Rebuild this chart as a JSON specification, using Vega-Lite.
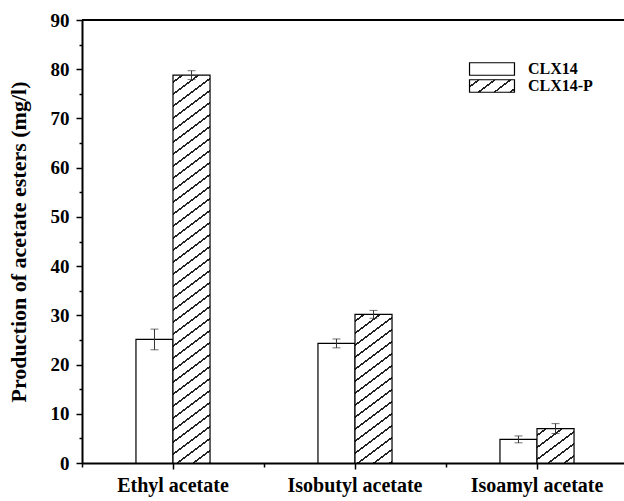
{
  "$schema": "https://vega.github.io/schema/vega-lite/v6.json",
  "width": 542,
  "height": 443,
  "autosize": {"type": "none"},
  "padding": {"left": 82, "top": 20, "right": 0, "bottom": 38},
  "background": "white",
  "params": [
    {"name": "stops", "value": [
      {"offset": 0, "color": "white"},
      {"offset": 0.012, "color": "white"}, {"offset": 0.012, "color": "#222"}, {"offset": 0.016, "color": "#222"}, {"offset": 0.016, "color": "white"},
      {"offset": 0.036, "color": "white"}, {"offset": 0.036, "color": "#222"}, {"offset": 0.040, "color": "#222"}, {"offset": 0.040, "color": "white"},
      {"offset": 0.060, "color": "white"}, {"offset": 0.060, "color": "#222"}, {"offset": 0.064, "color": "#222"}, {"offset": 0.064, "color": "white"},
      {"offset": 0.084, "color": "white"}, {"offset": 0.084, "color": "#222"}, {"offset": 0.088, "color": "#222"}, {"offset": 0.088, "color": "white"},
      {"offset": 0.108, "color": "white"}, {"offset": 0.108, "color": "#222"}, {"offset": 0.112, "color": "#222"}, {"offset": 0.112, "color": "white"},
      {"offset": 0.132, "color": "white"}, {"offset": 0.132, "color": "#222"}, {"offset": 0.136, "color": "#222"}, {"offset": 0.136, "color": "white"},
      {"offset": 0.156, "color": "white"}, {"offset": 0.156, "color": "#222"}, {"offset": 0.160, "color": "#222"}, {"offset": 0.160, "color": "white"},
      {"offset": 0.180, "color": "white"}, {"offset": 0.180, "color": "#222"}, {"offset": 0.184, "color": "#222"}, {"offset": 0.184, "color": "white"},
      {"offset": 0.204, "color": "white"}, {"offset": 0.204, "color": "#222"}, {"offset": 0.208, "color": "#222"}, {"offset": 0.208, "color": "white"},
      {"offset": 0.228, "color": "white"}, {"offset": 0.228, "color": "#222"}, {"offset": 0.232, "color": "#222"}, {"offset": 0.232, "color": "white"},
      {"offset": 0.252, "color": "white"}, {"offset": 0.252, "color": "#222"}, {"offset": 0.256, "color": "#222"}, {"offset": 0.256, "color": "white"},
      {"offset": 0.276, "color": "white"}, {"offset": 0.276, "color": "#222"}, {"offset": 0.280, "color": "#222"}, {"offset": 0.280, "color": "white"},
      {"offset": 0.300, "color": "white"}, {"offset": 0.300, "color": "#222"}, {"offset": 0.304, "color": "#222"}, {"offset": 0.304, "color": "white"},
      {"offset": 0.324, "color": "white"}, {"offset": 0.324, "color": "#222"}, {"offset": 0.328, "color": "#222"}, {"offset": 0.328, "color": "white"},
      {"offset": 0.348, "color": "white"}, {"offset": 0.348, "color": "#222"}, {"offset": 0.352, "color": "#222"}, {"offset": 0.352, "color": "white"},
      {"offset": 0.372, "color": "white"}, {"offset": 0.372, "color": "#222"}, {"offset": 0.376, "color": "#222"}, {"offset": 0.376, "color": "white"},
      {"offset": 0.396, "color": "white"}, {"offset": 0.396, "color": "#222"}, {"offset": 0.400, "color": "#222"}, {"offset": 0.400, "color": "white"},
      {"offset": 0.420, "color": "white"}, {"offset": 0.420, "color": "#222"}, {"offset": 0.424, "color": "#222"}, {"offset": 0.424, "color": "white"},
      {"offset": 0.444, "color": "white"}, {"offset": 0.444, "color": "#222"}, {"offset": 0.448, "color": "#222"}, {"offset": 0.448, "color": "white"},
      {"offset": 0.468, "color": "white"}, {"offset": 0.468, "color": "#222"}, {"offset": 0.472, "color": "#222"}, {"offset": 0.472, "color": "white"},
      {"offset": 0.492, "color": "white"}, {"offset": 0.492, "color": "#222"}, {"offset": 0.496, "color": "#222"}, {"offset": 0.496, "color": "white"},
      {"offset": 0.516, "color": "white"}, {"offset": 0.516, "color": "#222"}, {"offset": 0.520, "color": "#222"}, {"offset": 0.520, "color": "white"},
      {"offset": 0.540, "color": "white"}, {"offset": 0.540, "color": "#222"}, {"offset": 0.544, "color": "#222"}, {"offset": 0.544, "color": "white"},
      {"offset": 0.564, "color": "white"}, {"offset": 0.564, "color": "#222"}, {"offset": 0.568, "color": "#222"}, {"offset": 0.568, "color": "white"},
      {"offset": 0.588, "color": "white"}, {"offset": 0.588, "color": "#222"}, {"offset": 0.592, "color": "#222"}, {"offset": 0.592, "color": "white"},
      {"offset": 0.612, "color": "white"}, {"offset": 0.612, "color": "#222"}, {"offset": 0.616, "color": "#222"}, {"offset": 0.616, "color": "white"},
      {"offset": 0.636, "color": "white"}, {"offset": 0.636, "color": "#222"}, {"offset": 0.640, "color": "#222"}, {"offset": 0.640, "color": "white"},
      {"offset": 0.660, "color": "white"}, {"offset": 0.660, "color": "#222"}, {"offset": 0.664, "color": "#222"}, {"offset": 0.664, "color": "white"},
      {"offset": 0.684, "color": "white"}, {"offset": 0.684, "color": "#222"}, {"offset": 0.688, "color": "#222"}, {"offset": 0.688, "color": "white"},
      {"offset": 0.708, "color": "white"}, {"offset": 0.708, "color": "#222"}, {"offset": 0.712, "color": "#222"}, {"offset": 0.712, "color": "white"},
      {"offset": 0.732, "color": "white"}, {"offset": 0.732, "color": "#222"}, {"offset": 0.736, "color": "#222"}, {"offset": 0.736, "color": "white"},
      {"offset": 0.756, "color": "white"}, {"offset": 0.756, "color": "#222"}, {"offset": 0.760, "color": "#222"}, {"offset": 0.760, "color": "white"},
      {"offset": 0.780, "color": "white"}, {"offset": 0.780, "color": "#222"}, {"offset": 0.784, "color": "#222"}, {"offset": 0.784, "color": "white"},
      {"offset": 0.804, "color": "white"}, {"offset": 0.804, "color": "#222"}, {"offset": 0.808, "color": "#222"}, {"offset": 0.808, "color": "white"},
      {"offset": 0.828, "color": "white"}, {"offset": 0.828, "color": "#222"}, {"offset": 0.832, "color": "#222"}, {"offset": 0.832, "color": "white"},
      {"offset": 0.852, "color": "white"}, {"offset": 0.852, "color": "#222"}, {"offset": 0.856, "color": "#222"}, {"offset": 0.856, "color": "white"},
      {"offset": 0.876, "color": "white"}, {"offset": 0.876, "color": "#222"}, {"offset": 0.880, "color": "#222"}, {"offset": 0.880, "color": "white"},
      {"offset": 0.900, "color": "white"}, {"offset": 0.900, "color": "#222"}, {"offset": 0.904, "color": "#222"}, {"offset": 0.904, "color": "white"},
      {"offset": 1, "color": "white"}
    ]}
  ],
  "data": {
    "values": [
      {"ester": "Ethyl acetate", "strain": "CLX14", "value": 25.1, "err": 2.1},
      {"ester": "Ethyl acetate", "strain": "CLX14-P", "value": 78.8, "err": 0.9},
      {"ester": "Isobutyl acetate", "strain": "CLX14", "value": 24.3, "err": 0.9},
      {"ester": "Isobutyl acetate", "strain": "CLX14-P", "value": 30.2, "err": 0.8},
      {"ester": "Isoamyl acetate", "strain": "CLX14", "value": 4.8, "err": 0.7},
      {"ester": "Isoamyl acetate", "strain": "CLX14-P", "value": 7.0, "err": 1.0}
    ]
  },
  "layer": [
    {
      "mark": {
        "type": "bar",
        "stroke": "black",
        "strokeWidth": 1.2,
        "fill": {"expr": "datum.strain === 'CLX14' || datum.value === 'CLX14' ? 'white' : isString(datum.value) ? {gradient: 'linear', x1: 0, y1: 0, x2: 13.03, y2: 4.825, stops: stops} : {gradient: 'linear', x1: 0, y1: 0, x2: 0.75*bandwidth('xOffset')*500/(pow(0.75*bandwidth('xOffset'),2)+pow(scale('y',0)-scale('y',datum.value),2)), y2: (scale('y',0)-scale('y',datum.value))*500/(pow(0.75*bandwidth('xOffset'),2)+pow(scale('y',0)-scale('y',datum.value),2)), stops: stops}"}
      },
      "encoding": {
        "x": {
          "field": "ester", "type": "nominal", "sort": null,
          "scale": {"type": "band", "range": [0, 546], "paddingInner": 0.593, "paddingOuter": 0.2965},
          "axis": {
            "orient": "bottom",
            "title": null, "labelAngle": 0, "domainWidth": 2, "domainColor": "black",
            "tickSize": 6, "tickWidth": 1.5, "tickColor": "black",
            "labelFont": "Liberation Serif", "labelFontWeight": "bold", "labelFontSize": 20,
            "labelColor": "black", "labelPadding": 6
          }
        },
        "xOffset": {"field": "strain", "type": "nominal", "scale": {"domain": ["CLX14", "CLX14-P"], "paddingInner": 0, "paddingOuter": 0}},
        "y": {
          "field": "value", "type": "quantitative",
          "scale": {"domain": [0, 90], "nice": false, "zero": true},
          "axis": {
            "orient": "left",
            "title": "Production of acetate esters (mg/l)",
            "values": [0, 10, 20, 30, 40, 50, 60, 70, 80, 90],
            "tickSize": 6, "tickWidth": 1.5, "tickColor": "black",
            "domainWidth": 2, "domainColor": "black", "grid": false,
            "labelFont": "Liberation Serif", "labelFontWeight": "bold", "labelFontSize": 19,
            "labelColor": "black", "labelPadding": 7,
            "titleFont": "Liberation Serif", "titleFontWeight": "bold", "titleFontSize": 22,
            "titleColor": "black", "titlePadding": 20
          }
        },
        "stroke": {
          "field": "strain", "type": "nominal",
          "scale": {"domain": ["CLX14", "CLX14-P"], "range": ["black", "black"]},
          "legend": {
            "title": null, "orient": "none", "legendX": 402, "legendY": 41,
            "symbolType": "M-3.6,-1L3.6,-1L3.6,1L-3.6,1Z", "symbolSize": 156,
            "symbolStrokeWidth": 1.2, "symbolStrokeColor": "black",
            "labelOffset": 28, "rowPadding": -14,
            "labelFont": "Liberation Serif", "labelFontWeight": "bold", "labelFontSize": 16, "labelColor": "black"
          }
        }
      }
    },
    {
      "mark": {"type": "errorbar", "ticks": {"size": 8, "color": "#333"}, "rule": {"color": "#333", "strokeWidth": 1}},
      "encoding": {
        "x": {
          "field": "ester", "type": "nominal", "sort": null,
          "axis": {
            "orient": "bottom",
            "title": null, "labels": false, "domain": false,
            "bandPosition": -0.7285, "tickSize": 4, "tickWidth": 1.5, "tickColor": "black"
          }
        },
        "xOffset": {"field": "strain", "type": "nominal"},
        "y": {
          "field": "value", "type": "quantitative",
          "axis": {
            "orient": "left", "title": null, "labels": false, "domain": false, "grid": false,
            "values": [5, 15, 25, 35, 45, 55, 65, 75, 85],
            "tickSize": 3, "tickWidth": 1.5, "tickColor": "black"
          }
        },
        "yError": {"field": "err"}
      }
    },
    {
      "mark": {"type": "rule", "color": "black", "strokeWidth": 2},
      "encoding": {"y": {"datum": 90, "axis": null}}
    }
  ],
  "resolve": {"axis": {"x": "independent", "y": "independent"}},
  "config": {"view": {"stroke": null}}
}
